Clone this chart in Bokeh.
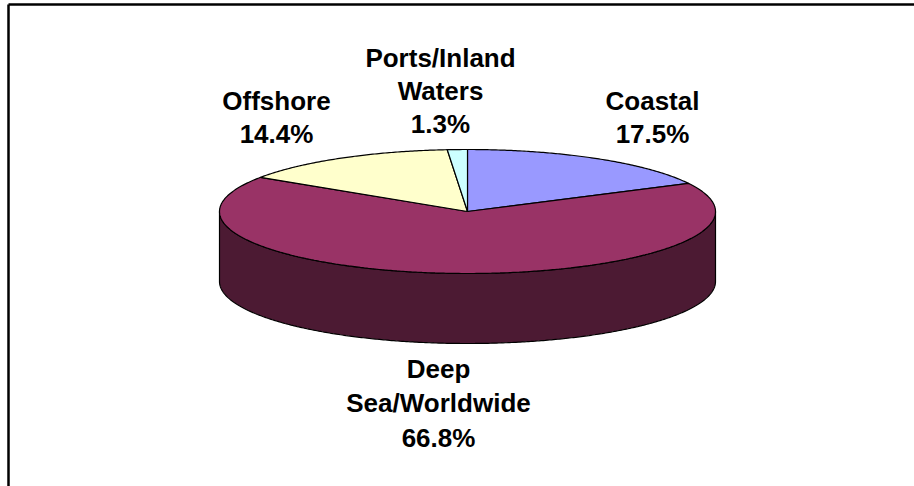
import numpy as np
from bokeh.plotting import figure
from bokeh.models import Range1d, ColumnDataSource
from bokeh.core.properties import value
from bokeh.embed import file_html
from bokeh.resources import INLINE

# ---- data ----
categories = ["Coastal", "Deep Sea/Worldwide", "Offshore", "Ports/Inland Waters"]
shares = [17.5, 66.8, 14.4, 1.3]
top_colors = ["#9999FF", "#993366", "#FFFFCC", "#CCFFFF"]
side_colors = ["#4D4D80", "#4C1A33", "#808066", "#668080"]
label_names = [["Coastal"], ["Deep", "Sea/Worldwide"], ["Offshore"], ["Ports/Inland", "Waters"]]

# ---- layout constants (pixels, y downward) ----
CX, CY, RX, RY, DEPTH = 467.0, 211.0, 248.0, 62.0, 70.0
label_anchor = [(652, 100), (438, 368), (276, 100), (440, 57)]  # first baseline
LINE_STEP = [33.0, 34.5, 33.0, 33.0]

W, H = 914, 486
p = figure(width=W, height=H, x_range=Range1d(0, W), y_range=Range1d(H, 0),
           output_backend="svg", toolbar_location=None, min_border=0,
           outline_line_color=None, background_fill_color="white",
           border_fill_color="white")
p.axis.visible = False
p.grid.visible = False


def arc(t0, t1, n=200, dy=0.0):
    th = np.radians(np.linspace(t0, t1, n))
    return CX + RX * np.sin(th), CY - RY * np.cos(th) + dy


total = float(sum(shares))
bounds = np.concatenate([[0.0], np.cumsum(shares) / total * 360.0])

# side walls (visible front half: 90..270 deg clockwise from top)
side_xs, side_ys, side_fill = [], [], []
for i in range(len(shares)):
    a0, a1 = max(bounds[i], 90.0), min(bounds[i + 1], 270.0)
    if a1 <= a0:
        continue
    n = max(int((a1 - a0) * 2), 4)
    tx, ty = arc(a0, a1, n)
    bx, by = arc(a1, a0, n, DEPTH)
    side_xs.append(list(np.concatenate([tx, bx])))
    side_ys.append(list(np.concatenate([ty, by])))
    side_fill.append(side_colors[i])
p.patches(xs=side_xs, ys=side_ys, fill_color=side_fill, line_color="black", line_width=1.2)

# top face slices
top_xs, top_ys = [], []
for i in range(len(shares)):
    a0, a1 = bounds[i], bounds[i + 1]
    n = max(int((a1 - a0) * 2), 4)
    tx, ty = arc(a0, a1, n)
    top_xs.append([CX] + list(tx))
    top_ys.append([CY] + list(ty))
src = ColumnDataSource(dict(xs=top_xs, ys=top_ys, color=top_colors, name=categories, share=shares))
p.patches(xs="xs", ys="ys", fill_color="color", line_color="black", line_width=1.2, source=src)

# labels
lx, ly, lt = [], [], []
for i, names in enumerate(label_names):
    lines = names + [f"{shares[i]:.1f}%"]
    x0, y0 = label_anchor[i]
    for k, t in enumerate(lines):
        lx.append(x0)
        ly.append(y0 + k * LINE_STEP[i])
        lt.append(t)
p.text(x=lx, y=ly, text=lt, text_align="center", text_baseline="alphabetic",
       text_font=value("Liberation Sans"), text_font_style="bold",
       text_font_size="26px", text_color="black")

# chart-area frame (top and left edges visible)
p.segment(x0=[8, 8], y0=[4, 4], x1=[W, 8], y1=[4, H], line_color="black", line_width=2.5)

open("out.html", "w").write(file_html(p, INLINE))
